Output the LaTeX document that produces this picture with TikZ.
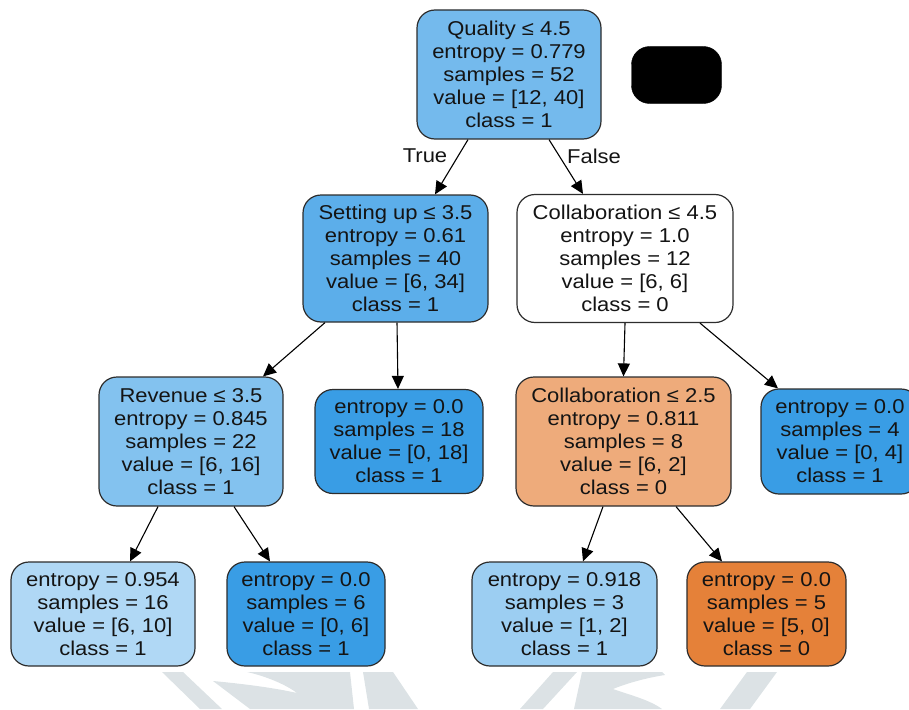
\documentclass[tikz,border=0pt]{standalone}
\usepackage{fontspec}
\setmainfont{Liberation Sans}[FakeStretch=1.1]
\usetikzlibrary{arrows.meta}
\definecolor{txt}{HTML}{141414}
\definecolor{bord}{HTML}{2D2D2D}
\definecolor{cRoot}{HTML}{74BAED}
\definecolor{cSet}{HTML}{5CAEEA}
\definecolor{cRev}{HTML}{83C2EF}
\definecolor{cBlue}{HTML}{399DE5}
\definecolor{cOrL}{HTML}{EEAB7B}
\definecolor{cOr}{HTML}{E58139}
\definecolor{cB10}{HTML}{B0D8F5}
\definecolor{cB12}{HTML}{9CCEF2}
\definecolor{wm}{HTML}{DCE2E5}
\tikzset{
  treenode/.style={draw=bord, line width=1.2pt, rounded corners=18pt, align=center,
    inner sep=0pt, text=txt, font=\fontsize{20}{23}\selectfont},
  edge/.style={draw=black, line width=1.1pt, -{Triangle[length=13pt,width=12pt]}},
  elabel/.style={text=txt, font=\fontsize{20}{23}\selectfont, inner sep=0pt}
}
\begin{document}
\begin{tikzpicture}[x=1pt,y=-1pt]
\useasboundingbox (0,0) rectangle (909,709);
% watermark
\fill[wm] (162,672) -- (183,672) -- (222,709) -- (200,709) -- cycle;
\fill[wm] (247,672) -- (350,672) -- (354,709) -- (250,709) -- (213,681)
  .. controls (245,684) and (275,688) .. (297,693)
  .. controls (285,684) and (265,676) .. (247,672) -- cycle;
\fill[wm] (363,672) -- (393,672) -- (418,709) -- (369,709) -- cycle;
\fill[wm] (553,672) -- (577,672) -- (543,709) -- (520,709) -- cycle;
\fill[wm] (582,672) -- (662,672) -- (665,675)
  .. controls (645,678) and (625,684) .. (613,689)
  .. controls (630,695) and (650,700) .. (662,709) -- (574,709) -- cycle;
\fill[wm] (747,672) -- (777,672) -- (750,709) -- (720,709) -- cycle;
% nodes
\node[treenode, fill=cRoot, minimum width=184pt, minimum height=129pt] (root) at (509,74.5)
  {Quality ≤ 4.5\\entropy = 0.779\\samples = 52\\value = [12, 40]\\class = 1};
\node[draw=black, fill=black, rounded corners=18pt, minimum width=90pt, minimum height=57pt, inner sep=0pt] (blk) at (676.5,75) {};
\node[treenode, fill=cSet, minimum width=185pt, minimum height=127pt] (setup) at (395.5,258.5)
  {Setting up ≤ 3.5\\entropy = 0.61\\samples = 40\\value = [6, 34]\\class = 1};
\node[treenode, fill=white, minimum width=216pt, minimum height=128pt] (colA) at (625,258.5)
  {Collaboration ≤ 4.5\\entropy = 1.0\\samples = 12\\value = [6, 6]\\class = 0};
\node[treenode, fill=cRev, minimum width=184pt, minimum height=129pt] (rev) at (191,441.5)
  {Revenue ≤ 3.5\\entropy = 0.845\\samples = 22\\value = [6, 16]\\class = 1};
\node[treenode, fill=cBlue, minimum width=168pt, minimum height=104pt] (leafA) at (399,441.5)
  {entropy = 0.0\\samples = 18\\value = [0, 18]\\class = 1};
\node[treenode, fill=cOrL, minimum width=215pt, minimum height=129pt] (colB) at (623.5,441.5)
  {Collaboration ≤ 2.5\\entropy = 0.811\\samples = 8\\value = [6, 2]\\class = 0};
\node[treenode, fill=cBlue, minimum width=158pt, minimum height=105pt] (leafB) at (840,441.5)
  {entropy = 0.0\\samples = 4\\value = [0, 4]\\class = 1};
\node[treenode, fill=cB10, minimum width=184pt, minimum height=104pt] (leafC) at (103,614)
  {entropy = 0.954\\samples = 16\\value = [6, 10]\\class = 1};
\node[treenode, fill=cBlue, minimum width=158pt, minimum height=104pt] (leafD) at (306,614)
  {entropy = 0.0\\samples = 6\\value = [0, 6]\\class = 1};
\node[treenode, fill=cB12, minimum width=185pt, minimum height=104pt] (leafE) at (564.5,614)
  {entropy = 0.918\\samples = 3\\value = [1, 2]\\class = 1};
\node[treenode, fill=cOr, minimum width=159pt, minimum height=104pt] (leafF) at (766.5,614)
  {entropy = 0.0\\samples = 5\\value = [5, 0]\\class = 0};
% edges
\draw[edge] ([xshift=-41pt]root.south) -- ([xshift=39.5pt]setup.north);
\draw[edge] ([xshift=40pt]root.south) -- ([xshift=-42pt]colA.north);
\draw[edge] ([xshift=-70.5pt]setup.south) -- ([xshift=72pt]rev.north);
\draw[edge] ([xshift=1.5pt]setup.south) -- ([xshift=-1pt]leafA.north);
\draw[edge] (colA.south) -- (colB.north);
\draw[edge] ([xshift=75pt]colA.south) -- ([xshift=-62pt]leafB.north);
\draw[edge] ([xshift=-33pt]rev.south) -- ([xshift=27pt]leafC.north);
\draw[edge] ([xshift=43pt]rev.south) -- ([xshift=-36pt]leafD.north);
\draw[edge] ([xshift=-20.5pt]colB.south) -- ([xshift=18.5pt]leafE.north);
\draw[edge] ([xshift=52.5pt]colB.south) -- ([xshift=-44.5pt]leafF.north);
% edge labels
\node[elabel] (ltrue) at (425,156) {True};
\node[elabel] (lfalse) at (594,156) {False};
\end{tikzpicture}
\end{document}
